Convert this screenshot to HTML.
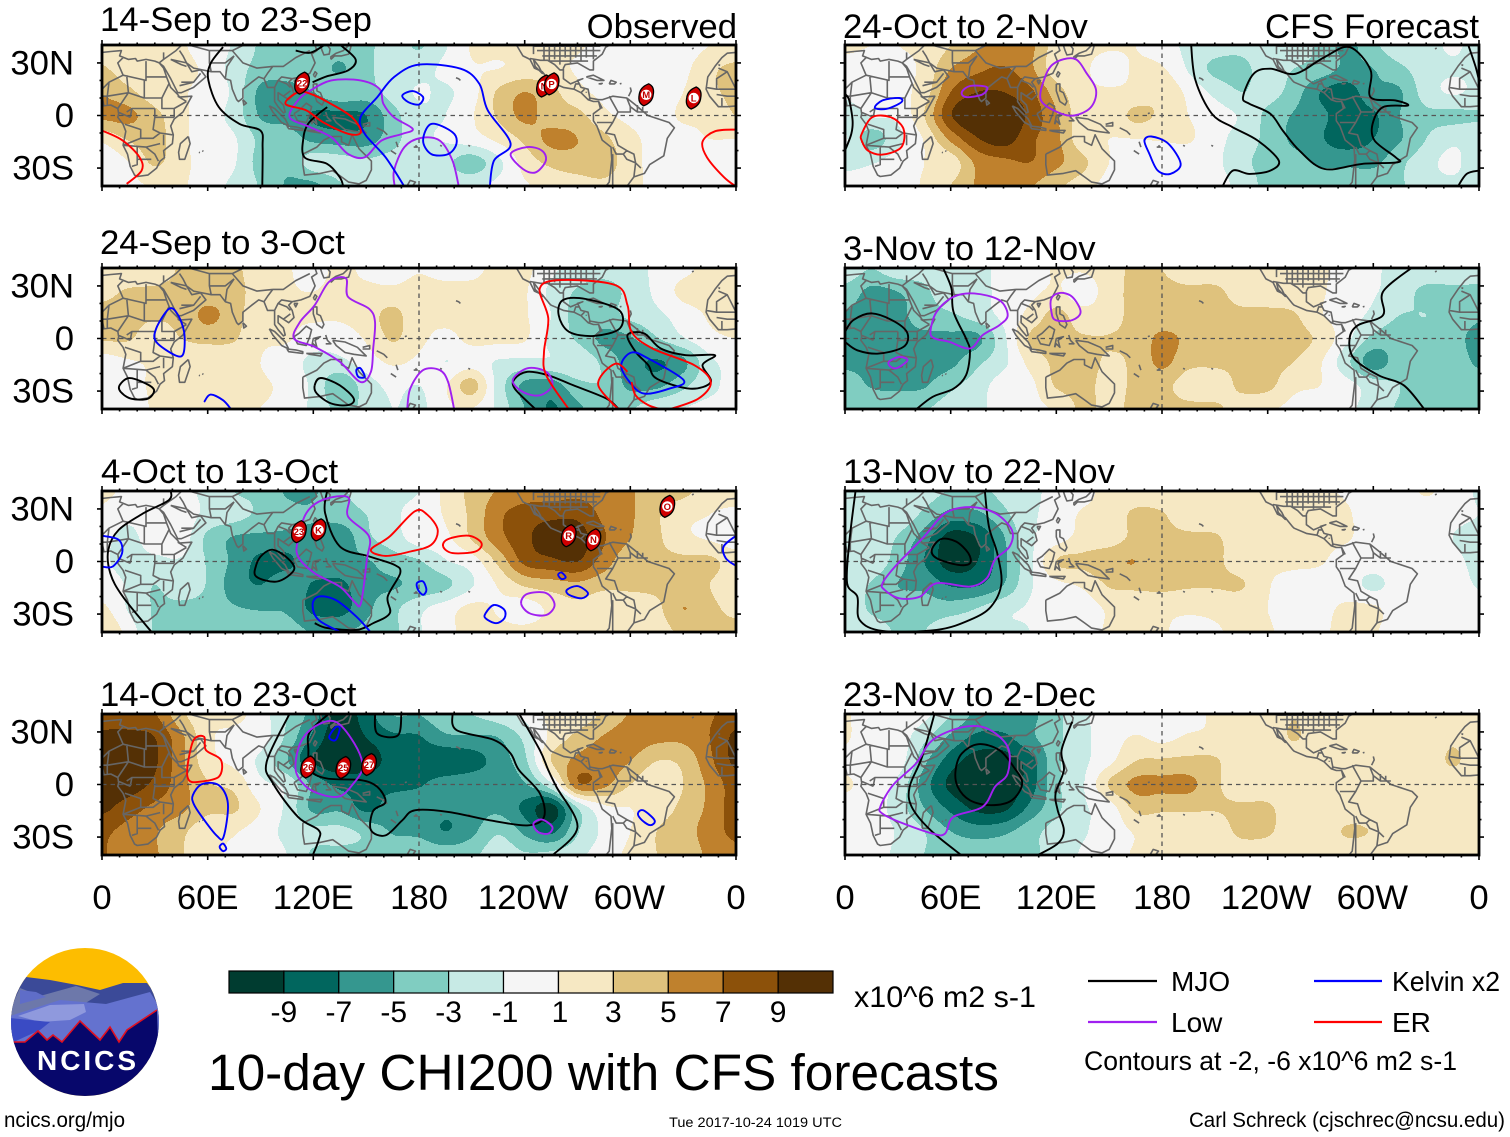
<!DOCTYPE html>
<html lang="en">
<head>
<meta charset="utf-8">
<title>10-day CHI200 with CFS forecasts</title>
<style>
html,body{margin:0;padding:0;background:#fff;width:1510px;height:1137px;overflow:hidden}
svg{display:block;font-family:"Liberation Sans",sans-serif}
</style>
</head>
<body>
<svg id="chart" xmlns="http://www.w3.org/2000/svg" width="1510" height="1137" viewBox="0 0 1510 1137">
  <rect width="1510" height="1137" fill="#fff"/>
  <g id="panels"></g>
  <g font-size="34.7" fill="#000">
    <text x="100" y="31">14-Sep to 23-Sep</text>
    <text x="100" y="254">24-Sep to 3-Oct</text>
    <text x="101" y="483">4-Oct to 13-Oct</text>
    <text x="100" y="706">14-Oct to 23-Oct</text>
    <text x="843" y="38">24-Oct to 2-Nov</text>
    <text x="843" y="260">3-Nov to 12-Nov</text>
    <text x="843" y="483">13-Nov to 22-Nov</text>
    <text x="843" y="706">23-Nov to 2-Dec</text>
    <text x="737" y="38" text-anchor="end">Observed</text>
    <text x="1479" y="38" text-anchor="end">CFS Forecast</text>
  </g>
  <g id="colorbar"></g>
  <text x="854" y="1007" font-size="30" textLength="182" lengthAdjust="spacingAndGlyphs">x10^6 m2 s-1</text>
  <text x="208" y="1090" font-size="51.4" textLength="791" lengthAdjust="spacingAndGlyphs">10-day CHI200 with CFS forecasts</text>
  <g font-size="28">
    <line x1="1088" y1="981" x2="1157" y2="981" stroke="#000" stroke-width="2.2"/>
    <text x="1171" y="991">MJO</text>
    <line x1="1088" y1="1022" x2="1157" y2="1022" stroke="#a020f0" stroke-width="2.2"/>
    <text x="1171" y="1032">Low</text>
    <line x1="1314" y1="981" x2="1382" y2="981" stroke="#0000ff" stroke-width="2.2"/>
    <text x="1392" y="991" textLength="108" lengthAdjust="spacingAndGlyphs">Kelvin x2</text>
    <line x1="1314" y1="1022" x2="1382" y2="1022" stroke="#ff0000" stroke-width="2.2"/>
    <text x="1392" y="1032">ER</text>
    <text x="1084" y="1070" font-size="26.5" textLength="373" lengthAdjust="spacingAndGlyphs">Contours at -2, -6 x10^6 m2 s-1</text>
  </g>
  <text x="4" y="1127" font-size="21" textLength="121" lengthAdjust="spacingAndGlyphs">ncics.org/mjo</text>
  <text x="669" y="1127" font-size="13.5" textLength="173" lengthAdjust="spacingAndGlyphs">Tue 2017-10-24 1019 UTC</text>
  <text x="1189" y="1127" font-size="21" textLength="316" lengthAdjust="spacingAndGlyphs">Carl Schreck (cjschrec@ncsu.edu)</text>
  <g>
    <defs><clipPath id="logo-clip"><circle cx="85" cy="1022" r="74"/></clipPath></defs>
    <g clip-path="url(#logo-clip)">
      <rect x="10" y="947" width="150" height="150" fill="#fdbd00"/>
      <path d="M26 977 L50 980 L77 985 L100 990 L123 983 L147 983 L160 1000 L160 1060 L10 1060 L10 1000Z" fill="#3b4a98"/>
      <path d="M10 1010 L20 988 L40 996 L76 986 L100 994 L84 1004 L10 1018Z" fill="#6d78aa"/>
      <path d="M20 990 L36 992 L46 997 L20 1004Z" fill="#5f6dc8"/>
      <path d="M10 1016 L60 1000 L106 1004 L150 992 L160 1008 L160 1060 L10 1060Z" fill="#6472cf"/>
      <path d="M18 1016 L50 1005 L84 1004 L86 1012 L70 1020 L40 1022Z" fill="#8f99dd"/>
      <path d="M10 1018 L50 1022 L40 1030 L18 1040 L10 1044Z" fill="#3a4bc4"/>
      <path d="M13 1042 L25 1042 L38 1031 L47 1040 L53 1035 L62 1042 L80 1021 L100 1040 L110 1027 L119 1042 L127 1030 L157 1010 L160 1100 L10 1100Z" fill="#07076b"/>
      <path d="M13 1042 L25 1042 L38 1031 L47 1040 L53 1035 L62 1042 L80 1021 L100 1040 L110 1027 L119 1042 L127 1030 L157 1010" fill="none" stroke="#e01020" stroke-width="1.6"/>
    </g>
    <text x="37" y="1070" font-size="28" font-weight="bold" fill="#fff" textLength="99" lengthAdjust="spacing">NCICS</text>
  </g>
</svg>
<script>
/* CHI200 anomaly fields: rows 40N to 40S every 13.33 deg, columns 0 to 360 every 15 deg */
const fieldSep14=[
[1.5,1.5,1.5,1.2,0,-1.2,-3.3,-4,-4,-4,-3.5,-2,-3.2,-1.2,1.2,1.5,1.5,1.5,1.2,.5,0,0,0,1,1.5],
[3.3,1.8,1.5,1.5,.5,-1.8,-3.8,-4,-4,-5.2,-3.5,-2,-1.8,-.5,.8,1,1.5,1.5,.8,0,0,0,.5,2.5,3.5],
[4.8,3.5,1.8,1.2,.3,-1.5,-5.5,-5.8,-5,-3.5,-3.8,-2.2,-.8,-1.3,.3,3.3,5,3.6,1.6,.5,0,.3,1,2.5,3.5],
[5.5,5.5,3.6,1.5,0,-1.8,-5.2,-5.8,-7.2,-7.5,-7,-3.8,-1.5,-1,.8,3.3,5.5,4,3.6,1.5,.5,.5,1.2,1.5,3],
[1.5,3.2,3.8,1.5,0,-.8,-3.5,-4,-5.5,-6,-6,-3.8,-1.5,-.8,.1,1.5,3.5,5.5,5,3.5,1.5,.5,.5,1,1],
[-.5,1,3.3,1.5,.3,-.8,-3.8,-4.5,-2,-2,-2.5,-2,-1.5,-2.5,-4,-1.5,1.8,3.5,4.2,4.2,1.7,.5,.5,0,0],
[0,.5,1.2,1.2,0,-1.5,-3.2,-5.2,-5.5,-3.2,-1.5,-1.5,-1.5,-1.5,-1.5,-.5,.8,1.5,2,2.5,1.5,.5,0,0,0]];
const fieldSep24=[
[1.5,1.5,1.5,3.3,3.6,3.5,1.6,1.2,.2,1.5,.5,0,.8,0,.5,1.5,1.5,-.5,-2,-2.5,-2,-.5,.5,1.5,1.5],
[2.5,3.2,3.4,3.6,3.8,3.8,1.8,1.2,1,1.5,1.5,1.5,1.8,1.8,1.5,1.5,1.2,-1.5,-3.2,-3.6,-2.5,-.5,1.5,1.5,1.8],
[3.5,3.5,3.3,3.6,5.5,3.8,1.6,1.2,1.3,1.3,2,3.6,1.5,1.5,1.5,1.5,1.2,-1,-3.8,-3.8,-2.5,-1.5,0,1.2,1.5],
[3.2,3.2,1.8,3,3.6,3.2,1.3,1.2,0,0,1.2,3.2,1.5,.5,1.5,1.5,1.2,-1.5,-3.3,-5.5,-5.2,-3.2,-1.2,.5,1],
[0,.8,1.2,1.2,1.3,1.5,1,0,-1.5,-1.5,0,1.3,.5,-1,0,-1.2,-1.5,-1.3,-1.5,-3.5,-6,-7.2,-5.5,-1.5,-.5],
[0,.5,1.2,1.2,1.3,1.3,1.2,.5,-1.5,-4.5,-2,-.5,-1,.8,3.8,-1.8,-5.5,-6,-3.6,-3.2,-5.5,-5.5,-3.5,-1.5,-.5],
[-.8,0,1.2,1.2,1.2,1.2,1,.5,-1.5,-3.5,-2.5,-1,-1.5,.5,1,-1.5,-5,-7.2,-5.5,-3.4,-3.2,-1.5,-1,-.5,-.8]];
const fieldOct4=[
[1.5,.5,0,-.5,-1.5,-3,-3.5,-5.2,-5.2,-3.5,-2,-1.5,-1,1.5,3.6,5.2,6,6,6.5,6,5.2,4,3.5,2,2],
[.5,-.5,0,0,-1.5,-2.2,-3.5,-4.5,-4.8,-4,-3,-1.5,0,1.2,3.5,6.5,8,8.5,8.5,6.5,5.3,3.3,1.6,1,.5],
[-.5,-1.5,0,0,-3.5,-5.2,-5.5,-5.5,-5.5,-6.5,-3.5,-2,0,.5,3.2,6.2,8.5,10,10,7.2,5,3.4,1.5,.8,0],
[-.8,-1.5,-1.5,-1.2,-3.2,-5.5,-7.5,-7.5,-5.5,-5.5,-5.2,-4,-3.2,-1.2,0,3.5,7.5,8.5,9,6,3.6,3.5,3.5,3.5,2],
[-.3,-1.2,-3,-1.5,-3.2,-6,-7,-5.5,-7.2,-7.5,-5.5,-5.2,-4.5,-3.5,-1.2,1.2,3.3,4,4.5,3.6,3.5,3.5,3.5,3,1.5],
[1.5,-1.2,-3.2,-3.6,-3.8,-4.8,-5.2,-5.3,-7.5,-7.8,-5.5,-3.6,-1.5,0,1.5,.8,0,1.5,2.5,1.5,1.5,2.5,5,3.5,2.5],
[3,.2,-3.2,-3.5,-3.5,-3.5,-3.5,-4,-5.2,-5.2,-4.5,-3.5,-1.2,.5,1.5,1.5,1.5,2,2.5,2,1.5,2,3.5,3.5,3.5]];
const fieldOct14=[
[8,8,7.2,3.5,1.5,1.5,0,-3,-6,-10,-8,-5,-5,-3.5,-3,-2,-.5,1.5,1.8,3.4,5.2,6,6.5,6.8,8],
[9.5,9.5,9,5.5,1.5,.5,0,-3.5,-7.5,-10.5,-9,-7.5,-7.2,-5.5,-5.3,-5,-2.5,1.5,3.6,5.2,6,5.5,5.5,7,9.5],
[10,10,9.3,5.5,1.8,.5,-1.5,-4.8,-9,-10.5,-10.2,-8.2,-8,-8.8,-8,-6,-3.5,3,5.5,6,5,3,3.5,6.5,9.5],
[10,10,8.5,5.8,3.2,2.5,-.5,-1.5,-5.5,-7.5,-7.5,-7.5,-7.2,-6,-5.5,-5.5,-5.2,-1.5,6.5,5.5,3,1.5,3,5.5,8],
[9.5,8,6.5,5.5,3.5,3.3,1,-1.5,-5.5,-5.5,-7.5,-6,-5.5,-6.5,-6,-5.5,-7.5,-10,-3,.5,1,2,3.5,5.5,8],
[7.5,6.2,5.2,3.5,1.6,1.2,0,-1.5,-2.5,-2.5,-3.5,-5.2,-5.5,-7,-5.5,-3.3,-5.5,-7.5,-3.2,-.5,1,3,4,6,7.5],
[7.2,5.5,5.2,3.2,1.4,.8,0,-1,-3.3,-3.5,-3.5,-3.5,-3.3,-3.8,-3.5,-1.8,-2.8,-2.5,-1.5,0,1.5,3,3.5,5.5,6.5]];
const fieldOct24=[
[1.5,1,1,1.5,3,4.8,5.5,5.5,2,1.5,1.2,1,0,-1.5,-2,-2.5,-1.5,-2,-3.5,-5.5,-3.5,-1.5,-1.5,-.8,-1.5],
[0,0,.5,1.5,5,6.5,7.2,5.5,1.8,1.3,.3,1.2,1.2,-1.2,-3.5,-3.5,-2.2,-3,-3.8,-5.5,-5,-3.5,-1.8,-1.2,-1.5],
[-.5,0,.5,2,7,9,9,7.5,4,1.5,1.2,1.5,2.5,.5,-1.5,-3,-2.2,-4,-7,-8,-5.5,-5.2,-2,-.8,-1.5],
[-2,-.8,-.5,3,8.8,11,11,8.5,5.2,1.8,1.5,3.5,2.5,1,0,-1.3,-3.5,-5.2,-6.5,-8,-7.3,-5,-3.5,-3.5,-3.2],
[-.8,-4,-1.5,1.2,5.5,8.8,10,7.5,5.5,1.6,1,1,1.2,1.2,-.2,-2,-3.5,-5.5,-6.8,-8,-7,-5.2,-3,-1.5,-1.8],
[-1.5,-1.2,0,1,1.8,5.5,6.5,7,5.5,3.5,1,0,-.8,-.2,-.5,-2.5,-3.5,-4,-5.5,-5.5,-5.5,-3.5,-1.8,-.5,-2.5],
[0,0,.5,1.2,3,5.2,5.5,5.2,3.5,2,.3,0,0,0,0,-1.8,-3.5,-3.5,-3,-3.5,-3.5,-3.2,-1.8,-1.5,-1.8]];
const fieldNov3=[
[-1.5,-3,-1.5,-2,-1.5,-1.5,-.5,0,1.2,1.2,2,3.5,3,1.5,1.5,1.5,1.2,1.2,1.2,.5,-.5,-2,-1.5,-1.5,-2],
[-3.8,-5.5,-5,-3.5,-1.5,-1.5,-.5,.5,1.3,0,2,3.6,3.6,3.5,3.5,2,1.5,1.5,1.2,0,-.8,-2,-3.5,-3.5,-3.5],
[-5.2,-5.5,-5.5,-4,-3.3,-2,-.5,1.6,3.6,1.8,2.2,3.6,3.6,3.6,3.6,3.5,3.6,3.2,1.2,0,-1.5,-3,-3,-3.5,-4.5],
[-5.5,-5.5,-5.5,-5.5,-5.5,-5.5,-1.5,3.2,3.6,3.2,3.1,3.6,5.5,4.5,3.6,3.6,3.6,3.6,2.5,-.5,-3.5,-4,-3.5,-4,-6],
[-5.5,-5.5,-5.8,-5.8,-5.5,-3.5,-1.5,1.6,3.4,3.6,2.8,3.4,5.5,3.6,3.5,3.5,3.5,3,1.2,-2.5,-6,-3.8,-3.5,-3.5,-5.5],
[-3.8,-5.2,-5.5,-5.2,-3.5,-2,0,.5,3.2,3.5,2.5,3.3,3.6,2,1.5,3.5,3.5,1.5,1,-.3,-2,-3,-3.5,-3.5,-3.5],
[-3.2,-3.2,-3.2,-3.2,-2,-1.5,0,.5,1.3,3.4,2.5,3.5,3.8,3.5,3.5,1.8,1.3,.5,0,-.5,-2,-3.2,-3.5,-3.5,-3.5]];
const fieldNov13=[
[-1.5,-1.5,-1.5,-2,-3.2,-3.5,-2.5,-1.8,0,.5,1.5,1.5,1.5,1.5,1.3,1.3,1.3,1.3,1.2,.8,0,0,1.2,0,-1.2],
[-1.5,-1.5,-1.5,-3.5,-5.8,-5.5,-3.5,-1.5,0,1.2,1.5,3.5,3.2,1.5,1.5,1.5,1.5,1.5,1.5,1.2,0,0,0,-.5,-1],
[-1.5,-1.5,-3.2,-6,-10,-9,-5.2,-1.5,.2,1.6,2,3.5,3.5,3.5,3.3,1.8,1.5,1.5,1.5,1.2,0,0,.3,-1,-1.5],
[-1.5,-1.5,-4,-7,-10,-9,-5.5,-1.5,3,3.5,4.5,5,3.5,3.5,3.5,1.8,1.5,1.5,1.2,0,0,0,0,-.5,-1.5],
[-1.5,-3.2,-5,-5.5,-7.2,-7.2,-5,-1.3,.5,1.3,3.2,3.5,3.5,3.2,3.2,3.2,1.2,0,0,0,-1.5,0,0,0,-1.2],
[-1.5,-3.3,-3.8,-4,-4,-3,-1.5,-.8,0,0,1.3,1.5,1.5,1.5,1.5,1.5,1,0,.5,1.3,1.3,0,0,0,0],
[-1.5,-2,-3.2,-3,-1.5,-1.5,-1.2,-1,0,0,1.3,1.5,1.3,0,.8,1.3,1.2,.3,.8,1.3,1.2,0,0,0,0]];
const fieldNov23=[
[1.2,0,0,-.5,-3,-5.5,-5.5,-5.5,-3.5,-1.5,0,0,-.2,.2,1.3,1.3,1.3,2.9,1.3,1.3,1.3,1.3,1.3,1.3,1.3],
[1.2,0,0,-2.5,-5.5,-7.5,-7.5,-5.5,-3.5,-1.5,0,1.2,.5,1.3,1.3,1.3,1.3,3.2,1.3,1.3,1.3,1.3,1.3,2.5,1.3],
[.5,0,0,-4.5,-8,-10,-10,-8,-3.5,-1.5,.5,3,3.3,3.5,3.3,1.3,1.3,1.3,1.3,1.3,1.3,1.3,1.3,3.3,1.5],
[1.3,0,-1.5,-6,-9.5,-10.5,-10.5,-8,-3.5,-1.2,3.2,5.5,5.5,5.5,3.5,1.4,1.3,1.3,1.3,1.3,1.3,1.3,1.3,1.3,1.3],
[.2,0,-2,-5,-7.5,-9.5,-9.5,-6.5,-3.5,-1.3,0,3.5,3.4,3.4,3.2,3.4,3.4,1.3,1.3,1.3,1.3,1.3,1.3,1.3,1.3],
[0,0,-1.2,-3,-5,-6,-5.5,-3.8,-2.2,-1.2,-.2,1.2,1.5,1.4,1.5,3.6,3.4,1.3,1.3,3.3,2.8,1.3,1.3,1.3,1.3],
[.3,0,-1.5,-3,-3.5,-3.5,-3.5,-3.5,-2,-.8,0,1.2,1.3,1.3,1.3,1.3,1.3,1.3,1.3,1.3,1.3,1.3,1.3,1.3,1.3]];

/* contour series as [lon,lat] vertices; a series whose last vertex equals its first is closed */
const mjoSep14=[
[[68.7,39],[61.6,29.5],[60.4,20],[66.3,4.8],[78.1,-4.8],[90,-8.6],[91.2,-18],[91,-40.5]],
[[110,37],[118.4,35.8],[126.7,40.5]],
[[135,40.5],[144,32],[139.7,25.7],[127.9,22.4],[119.6,19]],
[[127.9,4.8],[123,1],[117,-4.8],[114.4,-12.4],[115,-23.8],[127.9,-27.6],[135,-35.2],[137,-40.5]]];
const lowSep14=[
[[106.6,-1],[111.3,8.6],[118.4,14.3],[130.2,20],[146.8,20],[157.5,15.2],[159.8,6.7],[165.8,-1],[176.4,-7.6],[170.5,-10.5],[158.7,-14.3],[149.2,-23.8],[139.7,-21.9],[130.2,-12.4],[118.4,-6.7],[106.6,-1]],
[[166.2,-40.5],[165.8,-31.4],[171.7,-18],[181,-12.8],[191.8,-14.3],[199,-25.7],[202.6,-40.5]],
[[232,-22],[241.5,-18],[249.8,-20],[252,-25.7],[246.3,-32.4],[239,-30.5],[232,-22]]];
const kelvinSep14=[
[[171.7,-40.5],[161,-23.8],[149.2,-10.5],[146.8,-1],[156.3,10.5],[165.8,21.9],[180,29],[203.6,26.7],[214.3,18],[219,3],[232,-16],[222.6,-25.7],[220.2,-40.5]],
[[170.5,11.4],[176.4,13.9],[182.3,10.5],[180,6.3],[174,7.6],[170.5,11.4]],
[[182.3,-14.3],[187,-4.8],[199,-9.5],[201.3,-16],[196.5,-22],[187,-22],[182.3,-14.3]]];
const erSep14=[
[[104.2,6.7],[111.3,13.3],[118.4,12.4],[130,6.7],[142,-1],[147,-9.5],[140,-10.5],[125.5,-3.8],[116,2.9],[104.2,6.7]],
[[0,-8.6],[11.8,-14.3],[21.3,-23.8],[22.5,-31.4],[14,-39]],
[[360,-8],[348,-9],[341,-15],[343.5,-23.8],[353,-35],[360,-40.5]]];
const stormsSep14=[["22",113.6,18.5],["N",251,16.8],["P",255.3,18],["M",309,11.8],["L",336,10]];

const mjoSep24=[
[[10,-26.7],[15.4,-22.6],[25,-25.7],[29.6,-29.5],[26,-34.3],[16.6,-34.3],[10.7,-30.5],[10,-26.7]],
[[120.8,-26.7],[124.3,-22.5],[135,-26.7],[143,-34.3],[139.7,-38],[130,-37],[122,-31.4],[120.8,-26.7]],
[[246.3,-40.5],[234.4,-28.6],[234.4,-22.9],[241.5,-19],[253.4,-21],[267.6,-26.7],[286.5,-34.3],[293.6,-40.5]],
[[259.3,13.3],[261.7,21.9],[274.7,22.5],[293.6,16.2],[294,5.7],[279.4,1.5],[265.2,3.8],[259.3,13.3]],
[[298.4,2],[307.8,2.9],[317.3,-5.7],[331.5,-9.5],[348,-9.5],[341,-15.2],[345.7,-24.8],[334,-28.6],[315,-22.9],[310.2,-15.2],[303,-7.6],[298.4,2]]];
const lowSep24=[
[[138.5,34.3],[139.7,23.8],[151.6,17],[155,9.5],[154,-5.7],[152.7,-19],[146.8,-24.8],[135,-13.3],[120.8,-4.8],[109,0],[112.5,9.5],[120.8,19],[129,32.4],[138.5,34.3]],
[[173.3,-40.5],[175,-28.6],[182.3,-18],[191.8,-18],[196.5,-24.8],[200,-40.5]],
[[233.2,-23.8],[241.5,-17],[252.2,-19],[255.7,-26.7],[248.6,-32.4],[239,-30.5],[233.2,-23.8]]];
const kelvinSep24=[
[[37.9,16.8],[42.6,14.3],[46.6,3.8],[46.2,-8.6],[41.5,-9.5],[30.8,-1.9],[30.8,5.7],[37.9,16.8]],
[[58,-36.2],[61.6,-32],[68.7,-35.2],[73.4,-40.5]],
[[144.4,-18],[146.8,-17],[149.2,-21.9],[145.6,-21.9],[144.4,-18]],
[[294.8,-15.2],[300.7,-8],[310.2,-11.4],[330.3,-23.8],[322,-28.6],[307.8,-31.4],[299.6,-24.8],[294.8,-15.2]]];
const erSep24=[
[[265.2,-40.5],[252.2,-21],[251,-7.6],[253.4,11.4],[248.6,28.6],[260.4,33.3],[291.3,30.5],[298.4,19],[300.7,3.8],[312.6,-5.7],[336.3,-15.2],[345.7,-24.8],[338.6,-34.3],[322,-40.5]],
[[298.4,-19],[292.4,-14.3],[285.3,-19],[281.8,-26.7],[288.9,-36],[293.6,-40.5]],
[[300.7,-24.8],[303,-32.4],[310.2,-38],[318,-40.5]]];
const stormsSep24=[];

const mjoOct4=[
[[39,40.5],[38,35],[23.7,27.6],[9.5,18],[3.6,6.7],[4.7,-6.7],[11.8,-20],[28.4,-40.5]],
[[87.6,-1.9],[91,3.8],[97.1,6.7],[105.4,1.9],[109,-4.8],[99.5,-11.4],[87.6,-8.6],[87.6,-1.9]],
[[127.9,40.5],[126.7,27.6],[135,8.6],[151.6,2.9],[166,-1.9],[169.3,-6.7],[162.2,-20],[163.4,-29.5],[154,-35.2],[144.4,-39],[128,-38],[120.8,-35.2]]];
const lowOct4=[
[[139.7,36.6],[139.7,25.7],[151.6,14.3],[150.4,1],[147,-23.8],[143.3,-22.9],[135,-14.3],[120.8,-6.7],[111.3,2.9],[111.3,12.4],[116,27.6],[125.5,35.2],[139.7,36.6]],
[[238,-23.8],[241.5,-18.5],[252.2,-18],[257,-24.8],[252.2,-30.5],[242.7,-29.5],[238,-23.8]]];
const kelvinOct4=[
[[0,14.7],[9.5,12.4],[11.4,4.8],[6,-2.9],[0,-2.9]],
[[360,14.7],[353,8.6],[354.2,1.9],[360,-2.5]],
[[178.8,-12.4],[182.3,-11.4],[184.2,-16.2],[182.3,-19],[179.5,-16.2],[178.8,-12.4]],
[[217.8,-29.5],[222.6,-24.8],[228.5,-27.6],[228.5,-32.4],[223.7,-35.2],[217.8,-32.4],[217.8,-29.5]],
[[264,-16.2],[270,-14],[275.9,-18],[272.3,-21],[265.2,-19],[264,-16.2]],
[[259,-7.6],[260.9,-6.3],[263.3,-9],[260.9,-10],[259,-7.6]],
[[136,-40.5],[123,-33.3],[119.6,-24.8],[123,-20],[132.6,-21.9],[144.4,-31.4],[152.7,-40.5]]];
const erOct4=[
[[152.7,6.7],[163.4,14.3],[177.6,28.6],[184.7,26.7],[190.6,18],[187,9.5],[175.2,5.7],[161,3.2],[152.7,6.7]],
[[193.7,8.6],[196.5,12.8],[208.3,14.7],[215.5,10.5],[212,5.7],[199,4.8],[193.7,8.6]]];
const stormsOct4=[["23",111.8,17],["K",123,18],["R",265,14.7],["N",279,12.4],["O",321,31.4]];

const mjoOct14=[
[[106.6,40.5],[93.5,13],[97.1,.6],[111.3,-18.5],[123,-26],[123,-31.8],[119.6,-40.5]],
[[129,40.5],[118,30],[117.2,19.6],[118.4,8.1],[127.9,3.4],[146.8,2.5],[156.3,-1.3],[161,-10],[154,-15],[152.7,-26],[161,-29],[170.5,-20.4],[177.6,-14.7],[196.5,-15.6],[220.2,-20.4],[241.5,-23.3],[251,-18.5],[248.6,-5],[236.8,8.2],[232,17.7],[222.6,25.4],[201.3,31],[199,40.5]],
[[155,40.5],[156.3,29],[168,28],[170,40.5]],
[[236.8,40.5],[248.6,19.6],[253.4,8.2],[258,-1.3],[270,-24.2],[255.7,-40.5]]];
const lowOct14=[
[[132.6,35.8],[143.3,23.4],[148,10],[142,-.4],[135,-6.7],[125.5,-6],[116,-1.3],[110,8.2],[112.5,23.4],[120.8,33],[132.6,35.8]],
[[245,-22.3],[249.8,-20],[255.7,-24.2],[253.4,-28],[247.5,-27],[245,-22.3]]];
const kelvinOct14=[
[[51.6,-6],[56.8,.2],[66.3,-.4],[71.5,-10.9],[69,-30],[65,-29],[56.8,-18.5],[52,-10.9],[51.6,-6]],
[[66.8,-35.6],[68.7,-33.7],[70.6,-36.6],[68.7,-38],[66.8,-35.6]],
[[129,27],[132.6,32.6],[135,32],[132.6,25.3],[129,27]],
[[304.3,-16.6],[307.3,-14.7],[313.8,-20.4],[311.4,-23.2],[306.7,-20.4],[304.3,-16.6]]];
const erOct14=[
[[49.3,2.5],[48.5,10],[52,25.3],[58,27.2],[59,19.6],[67.5,14],[66.3,4.4],[54.5,1.5],[49.3,2.5]]];
const stormsOct14=[["26",117,10],["25",137,9.7],["27",151.6,11.4]];

const mjoOct24=[
[[0,-20],[3.6,-10.5],[4.3,-2.9],[2.4,8.6],[0,12.4]],
[[196.5,40.5],[199,20],[208.3,1],[220.2,-6.7],[234.4,-14.3],[246.3,-25.7],[241.5,-31.4],[229.7,-33.3],[220.2,-31.4],[214.3,-40.5]],
[[286.5,39],[298.4,26],[298.4,10.5],[312.6,8.6],[319.7,5.7],[305.5,4.8],[299.6,-4.8],[300.7,-14.3],[312.6,-23.8],[313.8,-26.7],[293.6,-27.6],[272.3,-30.5],[258,-20],[248.6,-8.6],[241.5,1],[229.7,6.7],[226,10.5],[232,23.8],[241.5,26.7],[255.7,23.8],[272.3,33.3],[286.5,39]],
[[348,-40.5],[353,-33.3],[360,-31.4]],
[[353.8,40.5],[358,28],[360,20]]];
const lowOct24=[
[[112.9,20],[118.4,29.5],[130.2,32.4],[137.4,23.8],[142.6,14.3],[139.7,4.8],[130.2,0],[120.8,1.9],[111.3,8.6],[112.9,20]],
[[66.3,13.3],[71,16.8],[80.5,16.2],[78,12],[68.7,10.5],[66.3,13.3]]];
const kelvinOct24=[
[[17,4.4],[21.3,8.6],[30.8,10],[32,7.6],[23.7,3.8],[17,4.4]],
[[170,-14.3],[174,-12],[183.5,-16],[190.6,-27.6],[184.7,-33.3],[177.6,-31.4],[172.9,-22],[170,-14.3]]];
const erOct24=[
[[9.5,-10.5],[15.4,-1],[26,-1],[33.2,-7.6],[32,-18],[21.3,-22.3],[13,-20],[9.5,-14.3],[9.5,-10.5]]];
const stormsOct24=[];

const mjoNov3=[
[[0,3.8],[4.7,10.5],[15.4,14.3],[28.4,9.5],[35.5,2.9],[33.2,-4.8],[19,-8.6],[7,-6.7],[0,-2]],
[[55.6,40.5],[60.4,28.6],[61.6,15.2],[68.7,0],[71,-7.6],[68.7,-21],[61.6,-28.6],[49.7,-33.3],[40.3,-40.5]],
[[322,40.5],[305.5,26.7],[305.5,13.3],[291.3,7.6],[286.5,0],[289,-11.4],[303,-21],[317.3,-26.7],[329.1,-40.5]]];
const lowNov3=[
[[48.5,3.8],[52,15.2],[61.6,23.8],[73.4,25.7],[87.6,21.9],[92.4,13.3],[87.6,7.6],[78.1,1.9],[71,-5.7],[59.2,-1.9],[51,0],[48.5,3.8]],
[[117.2,22.9],[122,26],[129,23.8],[133.8,15.2],[129,10.5],[119.6,10.5],[117.2,15.2],[117.2,22.9]],
[[24.9,-13.3],[30.8,-10.5],[35.5,-12.4],[29.6,-16.8],[26,-16.2],[24.9,-13.3]]];
const kelvinNov3=[];
const erNov3=[];
const stormsNov3=[];

const mjoNov13=[
[[6,40.5],[2.4,10.5],[1.2,-12.4],[7,-20],[8.3,-33.3],[21.3,-39.6],[52,-39],[71,-33.3],[82.9,-25.7],[88.8,-12.4],[86.4,4.8],[81.7,20],[79.4,40.5]],
[[49.3,6.7],[54.5,12.8],[63,11.4],[70,4.8],[71,-1],[64,-1.9],[52,1.9],[49.3,6.7]]];
const lowNov13=[
[[21.3,-12.4],[28.4,-2.9],[45,14.3],[57,27.6],[71,31],[85.2,27.6],[94.7,18],[93.5,8.6],[85.2,1],[80.5,-9.5],[71,-14.3],[52,-12.4],[42.6,-20],[30.8,-21],[22.5,-16.2],[21.3,-12.4]]];
const kelvinNov13=[];
const erNov13=[];
const stormsNov13=[];

const mjoNov23=[
[[62.8,8.2],[66.3,17.7],[75.8,23],[87.6,19.6],[95.8,10],[100.6,.6],[94.7,-9],[82.9,-11.8],[71,-9],[64,-1.3],[62.8,8.2]],
[[50.9,40.5],[43.8,15.8],[36.7,-1.3],[37.9,-12.8],[48.5,-26],[66.3,-40.5]],
[[129,35.8],[123,19.6],[124.3,8.2],[119.6,-5],[120.8,-14.7],[124.3,-26],[120.8,-33.7],[109,-40.5]]];
const lowNov23=[
[[20,-12.8],[27.2,-.4],[40.3,12],[49.7,25.3],[66.3,32.6],[80.5,32],[92.4,21.5],[92.4,6.3],[85.2,-1.3],[78.1,-12.8],[61.6,-18.5],[56.8,-28],[49.7,-28],[30.8,-21.3],[21.3,-16.6],[20,-12.8]]];
const kelvinNov23=[];
const erNov23=[];
const stormsNov23=[];

/* axis and colour-scale values */
const lonTicks=[0,60,120,180,240,300,360];
const lonTickLabels=["0","60E","120E","180","120W","60W","0"];
const latTicks=[30,0,-30];
const latTickLabels=["30N","0","30S"];
const colorLevels=[-9,-7,-5,-3,-1,1,3,5,7,9];
const colorLevelLabels=["-9","-7","-5","-3","-1","1","3","5","7","9"];
const bandColors=["#003c30","#01665e","#35978f","#80cdc1","#c7eae5","#f5f5f5","#f6e8c3","#dfc27d","#bf812d","#8c510a","#543005"];

/* geography as [lon,lat] polylines */
const coastLines=[
[[0,5.5],[5,6],[9,4],[9.5,1],[9,-1],[12,-5],[13.5,-9],[12,-17],[14.5,-22],[16,-29],[18.5,-34],[20,-34.8],[26,-34],[31,-30],[33,-26],[35.5,-24],[35,-20],[40,-16],[40.5,-11],[39,-6],[41,-2],[46,2],[51,11],[44,10.5],[43,12],[39,16],[37,21],[35,27],[32.5,30],[30,31],[25,32],[20,31],[19,32.5],[15,32],[10,34],[11,37],[5,36.5],[0,36]],
[[360,36],[355,35.5],[352,33],[348,28],[344,22],[343,15],[345,11],[350,5],[355,5],[360,5.5]],
[[49,-12],[50,-16],[47,-25],[44,-25],[43.5,-21],[44.5,-16],[49,-12]],
[[35,36],[35,32],[32.5,30],[35,28],[39,21],[43,13],[45,13],[52,16],[59,22],[56,26],[51,25],[48,30],[52,27],[57,26],[62,25],[67,25],[70,21],[73,20],[74,15],[76.5,9],[77.5,8],[80,10],[80,15],[85,19],[89,22],[92,21],[94,16],[98,16],[98,8],[100,5],[103,1.5],[104,2],[103,6],[100,9],[100,13],[103,11],[106,9],[109,12],[108,16],[106,19],[108,21],[113,22],[118,24],[121,30],[119,35],[122,37],[121,40]],
[[124,40],[125,37],[126,34.5],[129,35],[129.5,38],[128,40]],
[[130,32],[132,34],[136,34],[140,35],[141,38],[141.5,40],[140,40],[137,37],[133,35.5],[130,33.5],[130,32]],
[[80,9],[82,7],[80.5,6],[80,9]],
[[120,23],[121,25],[122,24],[121,22],[120,23]],
[[109,20],[111,20],[110,18],[109,20]],
[[120,18],[122,18],[122,14],[124,13],[126,8],[125,6],[122,8],[120,14],[120,18]],
[[109,1],[112,3],[116,7],[119,5],[118,1],[116,-4],[111,-3],[109,1]],
[[95,5.5],[98,4],[104,-2],[106,-6],[102,-4],[97,2],[95,5.5]],
[[105,-6],[110,-6.5],[114,-7.5],[114,-8.5],[106,-7.5],[105,-6]],
[[116,-8.5],[120,-8.5],[125,-8.5],[124,-10],[118,-9],[116,-8.5]],
[[119,-5],[120,0],[124,1],[121,-1],[122,-5],[120,-3],[119,-5]],
[[127,2],[128,-1],[130,-3],[127,-3]],
[[131,-1],[138,-2],[145,-5],[150,-10],[143,-9],[138,-8],[133,-4],[131,-1]],
[[148,-5],[152,-4],[152,-6],[148,-6]],
[[114,-22],[122,-18],[126,-14],[130,-12],[136,-12],[136,-15],[140,-17],[142,-11],[146,-19],[153,-26],[153,-31],[150,-37],[146,-39],[140,-38],[136,-35],[131,-31.5],[124,-33],[115,-34],[114,-28],[114,-22]],
[[173,-40.5],[175,-37],[178,-38],[176,-40.5]],
[[235.5,40],[239,34],[243,32],[245.5,27],[250,25],[254,20],[255,19],[262,16],[268,15],[272,13],[276,9],[279,8],[282,8],[283,4],[279,1],[279,-3],[281,-6],[284,-14],[289,-18],[289.5,-25],[288,-38],[286,-40.5]],
[[245,32],[248,28],[250,24],[246,28],[245,32]],
[[298,-40.5],[302,-35],[308,-33],[311,-28],[319,-23],[321,-13],[325,-7],[322,-4],[310,0],[303,6],[298,10],[290,11],[284,9],[282,9],[277,10],[276,15],[272,16],[270,20],[273,21],[266,18],[262,21],[262,27],[263,29],[270,30],[277,26],[279,26],[279,31],[284,35],[286,39],[288,40]],
[[275,22],[279,23],[285,20],[281,20],[275,22]],
[[288,18],[289,20],[292,19],[291,18],[288,18]],
[[282,18],[284,18.3],[283,17.8]],
[[294,18],[295,18.3]],
[[300,16],[300.5,14],[299,11]],
[[201,21.5],[202.5,21],[203.5,20]],
[[178,-17],[179,-18],[177,-18]],
[[167,-15],[168,-18]],
[[164,-20],[167,-22]],
[[156,-7],[160,-9],[162,-11]],
[[57,-20],[57.5,-20.5]],
[[55,-21],[55.6,-21.2]],
[[192,-17],[193,-17.5]],
[[172,1],[173,1.5]],
[[208,-17],[209,-17.5]],
[[350,29],[351,28.5]],
[[335,38],[336,38.5]],
[[275,13],[275,13.5]],
[[269,39],[269.5,39]]];
const borderLines=[
[[0,15],[4,19],[12,23],[25,20],[25,31]],[[25,22],[37,22]],[[24,20],[24,10],[34,10],[34,4],[41,4],[41,-1]],
[[14,23],[15,13],[24,10]],[[15,13],[9,4]],[[4,19],[3,11],[3,6]],[[12,33],[9,30],[12,23]],
[[34,10],[36,14],[38,18]],[[41,4],[48,8]],[[43,11],[48,8]],[[30,4],[30,-1],[29,-8],[33,-10],[40,-11]],
[[34,-1],[41,-1]],[[34,-1],[30,-1]],[[13,-5],[16,-6],[22,-8],[22,-13],[12,-17]],[[22,-13],[29,-13],[33,-10]],
[[12,-17],[25,-18],[33,-16]],[[20,-18],[20,-28],[17,-29]],[[25,-18],[30,-22],[32,-26]],[[20,-25],[28,-25]],
[[16,-1],[9,2]],[[14,2],[17,4],[24,4],[30,4]],[[3,11],[15,13]],[[0,11],[3,11]],[[16,-1],[17,4]],[[35,-11],[35,-17]],
[[0,11],[0,15]],[[1,6],[0,11]],[[360,15],[355,25],[350,27]],[[355,25],[349,21],[349,15]],[[343,16],[349,15],[355,15],[360,15]],
[[352,10],[352,5]],[[349,12],[355,11],[360,11]],
[[35,32],[42,37],[45,40]],[[39,32],[48,30]],[[44,37],[46,34],[48,30]],[[61,37],[61,30],[62,25]],
[[61,30],[70,30],[75,34]],[[74,37],[80,30],[88,27],[97,28]],[[70,21],[71,28],[75,34]],[[92,21],[94,24],[97,28]],
[[98,16],[100,20],[102,22],[108,21]],[[100,20],[105,18],[107,16]],[[103,11],[107,14]],[[50,40],[61,37],[74,37],[80,40]],
[[97,28],[103,28],[110,33],[118,37]],[[45,19],[52,19],[56,24]],[[44,17],[52,19]],[[39,32],[45,29],[48,28]],
[[282,8],[284,4]],[[288,11],[293,2],[290,-4],[281,-4]],[[298,10],[300,5],[300,2],[293,2]],
[[290,-4],[286,-10],[291,-11],[293,-17],[298,-20],[302,-22],[303,-27],[306,-30]],
[[290,-18],[292,-22],[296,-22],[298,-20]],[[290,-22],[290,-40.5]],[[303,-27],[298,-25],[296,-22]],
[[303,-27],[302,-35]],[[300,5],[304,2],[310,2]],[[304,2],[304,6]],[[307,2],[307,5]],
[[243,32.5],[249,31.5],[253,31.5],[257,29],[260,26],[262,26]],[[268,15],[269,18],[271,18]],[[272,13],[274,15]],[[276,9],[278,10]],
[[245,35],[245,40.5]],[[251,31.5],[251,40.5]],[[254,31],[254,40.5]],[[257,32],[257,40.5]],[[260,29],[260,40.5]],[[263,33],[263,40.5]],[[266,30],[266,40.5]],[[269,33],[269,40.5]],[[272,31],[272,40.5]],[[275,33],[275,40.5]],[[279,32],[279,40.5]],
[[247,37],[283,37]],[[250,34],[281,34]],[[245,39.5],[283,39.5]],[[254,31],[276,31]]];

/* axis functions */
const mapWidth=634, mapHeight=141, latTop=40.2;
function xScale(p,lon){return p.x+lon/360*mapWidth;}
function yScale(p,lat){return p.y+(latTop-lat)/(2*latTop)*mapHeight;}
function bandIndex(v){return Math.max(0,Math.min(10,Math.floor((v+11)/2)));}

const panelConfigs=[
{id:"sep14",x:102,y:45,field:fieldSep14,mjo:mjoSep14,low:lowSep14,kelvin:kelvinSep14,er:erSep14,storms:stormsSep14,lab:1,xlab:0},
{id:"sep24",x:102,y:268,field:fieldSep24,mjo:mjoSep24,low:lowSep24,kelvin:kelvinSep24,er:erSep24,storms:stormsSep24,lab:1,xlab:0},
{id:"oct4",x:102,y:491,field:fieldOct4,mjo:mjoOct4,low:lowOct4,kelvin:kelvinOct4,er:erOct4,storms:stormsOct4,lab:1,xlab:0},
{id:"oct14",x:102,y:714,field:fieldOct14,mjo:mjoOct14,low:lowOct14,kelvin:kelvinOct14,er:erOct14,storms:stormsOct14,lab:1,xlab:1},
{id:"oct24",x:845,y:45,field:fieldOct24,mjo:mjoOct24,low:lowOct24,kelvin:kelvinOct24,er:erOct24,storms:stormsOct24,lab:0,xlab:0},
{id:"nov3",x:845,y:268,field:fieldNov3,mjo:mjoNov3,low:lowNov3,kelvin:kelvinNov3,er:erNov3,storms:stormsNov3,lab:0,xlab:0},
{id:"nov13",x:845,y:491,field:fieldNov13,mjo:mjoNov13,low:lowNov13,kelvin:kelvinNov13,er:erNov13,storms:stormsNov13,lab:0,xlab:0},
{id:"nov23",x:845,y:714,field:fieldNov23,mjo:mjoNov23,low:lowNov23,kelvin:kelvinNov23,er:erNov23,storms:stormsNov23,lab:0,xlab:1}];

const SVGNS="http://www.w3.org/2000/svg";
function make(tag,attrs,parent){
  const el=document.createElementNS(SVGNS,tag);
  for(const k in attrs)el.setAttribute(k,attrs[k]);
  if(parent)parent.appendChild(el);
  return el;
}
function cubic(a,b,c,d,t){
  return b+0.5*t*(c-a+t*(2*a-5*b+4*c-d+t*(3*(b-c)+d-a)));
}
function smoothPath(p,pts){
  const xy=pts.map(q=>[xScale(p,q[0]),yScale(p,q[1])]);
  const n=xy.length;
  const closed=pts[0][0]===pts[n-1][0]&&pts[0][1]===pts[n-1][1];
  const get=i=>{
    if(closed){const m=n-1;return xy[((i%m)+m)%m];}
    return xy[Math.max(0,Math.min(n-1,i))];
  };
  let d="M"+xy[0][0].toFixed(1)+" "+xy[0][1].toFixed(1);
  for(let i=0;i<n-1;i++){
    const a=get(i-1),b=get(i),c=get(i+1),e=get(i+2);
    d+="C"+(b[0]+(c[0]-a[0])/6).toFixed(1)+" "+(b[1]+(c[1]-a[1])/6).toFixed(1)+" "+
      (c[0]-(e[0]-b[0])/6).toFixed(1)+" "+(c[1]-(e[1]-b[1])/6).toFixed(1)+" "+
      c[0].toFixed(1)+" "+c[1].toFixed(1);
  }
  return d;
}
function straightPath(p,pts){
  return pts.map((q,i)=>(i?"L":"M")+xScale(p,q[0]).toFixed(1)+" "+yScale(p,q[1]).toFixed(1)).join("");
}
function drawField(p,g){
  const rows=p.field.length, cols=p.field[0].length;
  const latStep=80/(rows-1), lonStep=360/(cols-1);
  const ds=bandColors.map(()=>[]);
  const sampleCol=(lat,c)=>{
    const f=Math.max(0,Math.min(rows-1.0001,(40-lat)/latStep));
    const i=Math.floor(f),t=f-i;
    const v=r=>p.field[Math.max(0,Math.min(rows-1,r))][c];
    return cubic(v(i-1),v(i),v(i+1),v(i+2),t);
  };
  for(let py=0;py<mapHeight;py++){
    const lat=latTop-(py+.5)/mapHeight*2*latTop;
    const line=[];
    for(let c=0;c<cols;c++)line.push(sampleCol(lat,c));
    let runStart=0,cur=-1;
    for(let px=0;px<=mapWidth;px++){
      let band=-2;
      if(px<mapWidth){
        const f=Math.min(cols-1.0001,((px+.5)/mapWidth*360)/lonStep);
        const i=Math.floor(f),t=f-i;
        const v=k=>line[Math.max(0,Math.min(cols-1,k))];
        band=bandIndex(cubic(v(i-1),v(i),v(i+1),v(i+2),t));
      }
      if(band!==cur){
        if(cur>=0){const w=px-runStart;ds[cur].push("M"+(p.x+runStart)+" "+(p.y+py)+"h"+w+"v1h"+(-w)+"z");}
        cur=band;runStart=px;
      }
    }
  }
  ds.forEach((parts,b)=>{
    if(!parts.length)return;
    const el=make("path",{d:parts.join(""),fill:bandColors[b],"shape-rendering":"crispEdges"},g);
    
    
  });
}
function drawSeries(p,g,series,color,name){
  series.forEach(pts=>{
    const el=make("path",{d:smoothPath(p,pts),fill:"none",stroke:color,"stroke-width":1.9,"stroke-linejoin":"round"},g);
    
    
  });
}
function drawStorm(p,g,s){
  const sg=make("g",{transform:"translate("+xScale(p,s[1]).toFixed(1)+" "+yScale(p,s[2]).toFixed(1)+")"},g);
  
  
  make("path",{d:"M2.5 -11 C7 -9 8 -5 7 0 C6.5 5 4 8.5 -2.5 11 C-7 9 -8 5 -7 0 C-6.5 -5 -4 -8.5 2.5 -11Z",fill:"#d00000",stroke:"#000","stroke-width":1.3},sg);
  make("circle",{r:5.2,fill:"#fff"},sg);
  const t=make("text",{"text-anchor":"middle",y:3.4,"font-size":9.5,"font-weight":"bold",fill:"#c00000"},sg);
  
  
  t.textContent=s[0];
}

const root=document.getElementById("panels");
const svgRoot=document.getElementById("chart");
const defs=make("defs",{},svgRoot);
panelConfigs.forEach(p=>{
  const g=make("g",{},root);
  
  
  const cp=make("clipPath",{id:"clip-"+p.id},defs);
  make("rect",{x:p.x,y:p.y,width:mapWidth,height:mapHeight},cp);
  const inner=make("g",{"clip-path":"url(#clip-"+p.id+")"},g);
  
  
  const fieldG=make("g",{},inner);
  
  
  drawField(p,fieldG);
  const dD=coastLines.concat(borderLines).map(l=>straightPath(p,l)).join("");
  const coast=make("path",{d:dD,fill:"none",stroke:"#666","stroke-width":1.6,"stroke-linejoin":"round"},inner);
  
  
  const eq=make("line",{x1:p.x,x2:p.x+mapWidth,y1:yScale(p,0),y2:yScale(p,0),stroke:"#555","stroke-width":1.3,"stroke-dasharray":"4.5 4"},inner);
  
  
  const dl=make("line",{x1:xScale(p,180),x2:xScale(p,180),y1:p.y,y2:p.y+mapHeight,stroke:"#555","stroke-width":1.3,"stroke-dasharray":"4.5 4"},inner);
  
  
  drawSeries(p,inner,p.mjo,"#000","mjo");
  drawSeries(p,inner,p.low,"#a020f0","low");
  drawSeries(p,inner,p.kelvin,"#0000ff","kelvin");
  drawSeries(p,inner,p.er,"#ff0000","er");
  p.storms.forEach(s=>drawStorm(p,inner,s));
  /* frame and ticks */
  const frame=make("rect",{x:p.x,y:p.y,width:mapWidth,height:mapHeight,fill:"none",stroke:"#000","stroke-width":2.8},g);
  
  
  let tk="";
  for(let lon=0;lon<=360;lon+=10){
    const x=xScale(p,lon).toFixed(1);
    const major=lonTicks.indexOf(lon)>=0;
    const len=major?5:2.5;
    tk+="M"+x+" "+p.y+"v"+(-len)+"M"+x+" "+(p.y+mapHeight)+"v"+len;
  }
  for(let lat=-30;lat<=30;lat+=10){
    const y=yScale(p,lat).toFixed(1);
    const major=latTicks.indexOf(lat)>=0;
    const len=major?5:2.5;
    tk+="M"+p.x+" "+y+"h"+(-len)+"M"+(p.x+mapWidth)+" "+y+"h"+len;
  }
  const ticks=make("path",{d:tk,stroke:"#000","stroke-width":1.6,fill:"none"},g);
  
  
  if(p.lab){
    latTicks.forEach((lat,i)=>{
      const t=make("text",{x:74,y:(yScale(p,lat)+11.5).toFixed(1),"font-size":34.7,"text-anchor":"end"},g);
      
      
      t.textContent=latTickLabels[i];
    });
  }
  if(p.xlab){
    lonTicks.forEach((lon,i)=>{
      const t=make("text",{x:(xScale(p,lon)-(i===4?1.5:i===5?1:0)).toFixed(1),y:p.y+mapHeight+54,"font-size":34.7,"text-anchor":"middle"},g);
      
      
      t.textContent=lonTickLabels[i];
    });
  }
});

/* colorbar */
const cb=document.getElementById("colorbar");
const cbX=229,cbW=604,cbY=971,cbH=22;
function cbScale(level){return cbX+(level-colorLevels[0]+2)/((colorLevels[colorLevels.length-1]-colorLevels[0])+4)*cbW;}
bandColors.forEach((c,i)=>{
  const x0=cbX+i/bandColors.length*cbW;
  const r=make("rect",{x:x0.toFixed(1),y:cbY,width:(cbW/bandColors.length).toFixed(1),height:cbH,fill:c,stroke:"#000","stroke-width":1.2},cb);
  
  
});
colorLevels.forEach((lv,i)=>{
  const t=make("text",{x:(cbScale(lv)+(Math.abs(lv)===1?1.5:0)).toFixed(1),y:1022,"font-size":30,"text-anchor":"middle"},cb);
  
  
  t.textContent=colorLevelLabels[i];
});
</script>
</body>
</html>
